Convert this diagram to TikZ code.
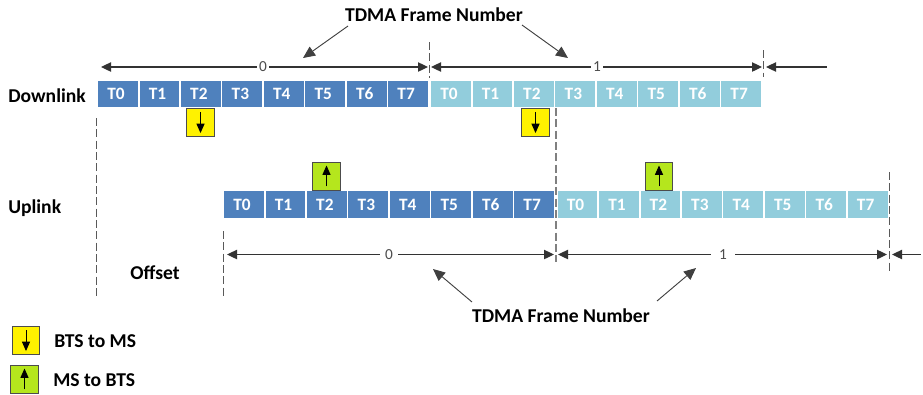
\documentclass[tikz,border=0pt]{standalone}
\usepackage{fontspec}
\setmainfont{Carlito}
\usetikzlibrary{arrows.meta}
\definecolor{darkcell}{HTML}{4F81BD}
\definecolor{lightcell}{HTML}{92CDDC}
\definecolor{downyel}{HTML}{FFF200}
\definecolor{upgrn}{HTML}{B5E61D}
\newcommand{\slotlabel}[1]{\hspace*{-3pt}\raisebox{-1.2pt}{T#1}}
\tikzset{
  x=0.75pt,y=-0.75pt,
  cellbox/.style={inner sep=0pt,minimum width=29.8pt,minimum height=19.6pt,text=white,font=\fontsize{13}{14}\selectfont\bfseries},
  darkc/.style={cellbox,fill=darkcell},
  lightc/.style={cellbox,fill=lightcell},
  lbl/.style={inner sep=0pt,text=black,font=\fontsize{14.7}{16}\selectfont\bfseries},
  numlbl/.style={inner sep=1.5pt,fill=white,text=black!70,font=\fontsize{11.5}{12}\selectfont},
  numwide/.style={numlbl,inner xsep=4pt},
  spanline/.style={draw=black!80,line width=0.9pt,{Triangle[length=7.5pt,width=7pt]}-{Triangle[length=7.5pt,width=7pt]}},
  spanopen/.style={draw=black!80,line width=0.9pt,{Triangle[length=7.5pt,width=7pt]}-},
  pointer/.style={draw=black!75,line width=0.7pt,-{Triangle[length=9pt,width=8pt]}},
  boundary/.style={draw=black!65,line width=0.8pt,dash pattern=on 6pt off 2.5pt},
  sqbox/.style={draw=black!70,line width=0.7pt,inner sep=0pt,minimum width=20.6pt,minimum height=21pt},
  yelbox/.style={sqbox,fill=downyel},
  grnbox/.style={sqbox,fill=upgrn},
  dirarrow/.style={draw=black,line width=0.7pt,-{Triangle[length=7pt,width=6pt]}},
}
\begin{document}
\begin{tikzpicture}
\useasboundingbox (0,0) rectangle (923,394);
% cells
\foreach \i in {0,...,7}{
  \pgfmathsetmacro{\px}{118+41.45*\i}
  \node[darkc] (da\i) at (\px,94) {\slotlabel{\i}};
  \pgfmathsetmacro{\px}{451+41.45*\i}
  \node[lightc] (db\i) at (\px,94) {\slotlabel{\i}};
  \pgfmathsetmacro{\px}{244+41.45*\i}
  \node[darkc] (ua\i) at (\px,204.5) {\slotlabel{\i}};
  \pgfmathsetmacro{\px}{577.5+41.45*\i}
  \node[lightc] (ub\i) at (\px,204.5) {\slotlabel{\i}};
}
% dashed boundaries
\coordinate (d1a) at (96.5,118); \coordinate (d1b) at (96.5,298);
\coordinate (d2a) at (429.5,42); \coordinate (d2b) at (429.5,78);
\coordinate (d3a) at (763.5,50); \coordinate (d3b) at (763.5,77);
\coordinate (d4a) at (556,108); \coordinate (d4b) at (556,262);
\coordinate (d5a) at (223.5,231); \coordinate (d5b) at (223.5,298);
\coordinate (d6a) at (889.5,172); \coordinate (d6b) at (889.5,271);
\foreach \n in {1,2,3,5,6}{\draw[boundary] (d\n a) -- (d\n b);}
\draw[boundary,draw=black!50,line width=1.1pt] (d4a) -- (d4b);
% spans
\coordinate (ta) at (101,67); \coordinate (tb) at (428,67);
\coordinate (tc) at (431,67); \coordinate (td) at (762,67);
\coordinate (te) at (766,67); \coordinate (tf) at (827,67);
\coordinate (ba) at (227,254.5); \coordinate (bb) at (554,254.5);
\coordinate (bc) at (558,254.5); \coordinate (bd) at (887,254.5);
\coordinate (be) at (892,254.5); \coordinate (bf) at (921,254.5);
\draw[spanline] (ta) -- (tb);
\draw[spanline] (tc) -- (td);
\draw[spanopen] (te) -- (tf);
\draw[spanline] (ba) -- (bb);
\draw[spanline] (bc) -- (bd);
\draw[spanopen] (be) -- (bf);
\node[numlbl] (n0t) at (263,67) {0};
\node[numlbl] (n1t) at (597,67) {1};
\node[numwide] (n0b) at (389,254.5) {0};
\node[numwide,inner xsep=6pt] (n1b) at (723,254.5) {1};
% titles
\node[lbl] (top) at (434,15) {TDMA Frame Number};
\node[lbl] (bot) at (561,316) {TDMA Frame Number};
\coordinate (p1s) at (348,26); \coordinate (p1e) at (303,58);
\coordinate (p2s) at (522,25); \coordinate (p2e) at (568,58);
\coordinate (p3s) at (472,302); \coordinate (p3e) at (433,269);
\coordinate (p4s) at (657,301); \coordinate (p4e) at (696,268);
\draw[pointer] (p1s) -- (p1e);
\draw[pointer] (p2s) -- (p2e);
\draw[pointer] (p3s) -- (p3e);
\draw[pointer] (p4s) -- (p4e);
% row labels
\node[lbl,anchor=west] (dl) at (8,96) {Downlink};
\node[lbl,anchor=west] (ul) at (8,208) {Uplink};
\node[lbl] (off) at (155,272.5) {Offset};
\node[lbl,anchor=west] (lg1) at (54,341) {BTS to MS};
\node[lbl,anchor=west] (lg2) at (53,380) {MS to BTS};
% marker boxes
\foreach \nm/\cx/\cy in {y1/200.5/122.5,y2/535.5/122.5,y3/26/340.5}{
  \node[yelbox] (\nm) at (\cx,\cy) {};
  \draw[dirarrow] (\nm.north) ++(0,4) -- ++(0,21);
}
\foreach \nm/\cx/\cy in {g1/326.5/176,g2/659/176,g3/24.5/379}{
  \node[grnbox] (\nm) at (\cx,\cy) {};
  \draw[dirarrow] (\nm.south) ++(0,-4) -- ++(0,-21);
}
\end{tikzpicture}
\end{document}
